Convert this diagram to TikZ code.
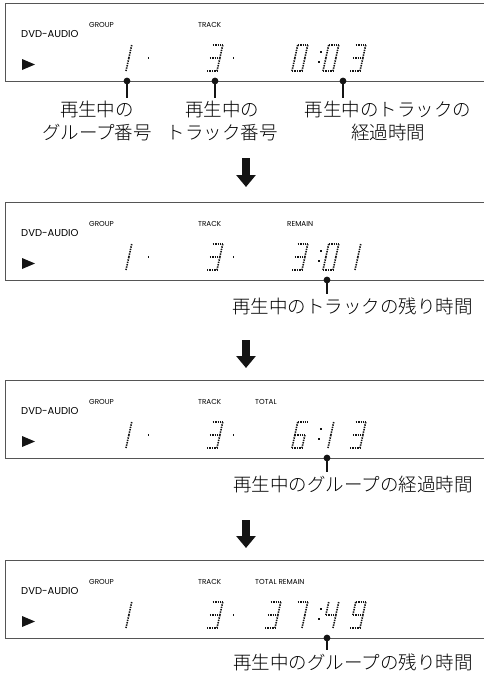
\documentclass[tikz,border=0pt]{standalone}
\usepackage{fontspec}
\usetikzlibrary{positioning,arrows.meta,calc}
\newfontfamily\lcdfont{Poppins}
\IfFontExistsTF{Noto Sans CJK JP Light}
 {\newfontfamily\jpfont{Noto Sans CJK JP Light}}
 {\newfontfamily\jpfont{Noto Sans CJK JP}}
\definecolor{Frame}{RGB}{85,85,85}
\definecolor{Ink}{RGB}{20,20,20}
\def\digO{TL/TR,TR/MR,MR/BR,BL/BR,ML/BL,TL/ML}
\def\digI{TM/MM,MM/BM}
\def\digIII{TL/TR,TR/MR,MR/BR,BL/BR,ML/MR}
\def\digIV{TL/ML,ML/MR,TR/MR,MR/BR}
\def\digVI{TL/TR,TL/ML,ML/BL,BL/BR,MR/BR,ML/MR}
\def\digVII{TL/TR,TR/MR,MR/BR}
\def\digIX{TL/TR,TL/ML,TR/MR,ML/MR,MR/BR,BL/BR}
\newcommand\lcd[3]{\begin{scope}[shift={(#1,#2)},xslant=.22]
 \coordinate (TL) at (0,-26); \coordinate (TM) at (5,-26); \coordinate (TR) at (10,-26);
 \coordinate (ML) at (0,-13); \coordinate (MM) at (5,-13); \coordinate (MR) at (10,-13);
 \coordinate (BL) at (0,0); \coordinate (BM) at (5,0); \coordinate (BR) at (10,0);
 \foreach \p/\q in #3 {\draw[seg] (\p)--(\q);}
\end{scope}}
\newcommand\lcddot[1]{\fill[Ink] (#1,54) rectangle +(1.8,1.8);}
\newcommand\lcdcol[1]{\fill[Ink] (#1+2,48) rectangle +(1.8,1.8);
 \fill[Ink] (#1,58) rectangle +(1.8,1.8);}
\newcommand\screen[2]{\node[panel] (#1) at (5,#2) {};
 \begin{scope}[shift={(0,#2)}]
 \node[tag,font=\lcdfont\fontsize{10}{11}\selectfont] (#1dvd) at (21,31) {DVD-AUDIO};
 \node[tag] (#1grp) at (89,22) {GROUP};
 \node[tag] (#1trk) at (198,22) {TRACK};
 \fill[Ink] (22,56)--(35,61.5)--(22,67)--cycle;
 \lcd{121}{68}\digI \lcd{207}{68}\digIII \lcddot{232.5}
 \end{scope}}

\begin{document}
\begin{tikzpicture}[x=1pt,y=-1pt,
 panel/.style={draw=Frame,line width=1.1pt,minimum width=520pt,minimum height=78pt,anchor=north west,inner sep=0},
 seg/.style={Ink,line width=1.6pt,dash pattern=on 1.4pt off 1pt},
 tag/.style={font=\lcdfont\fontsize{7.2}{8}\selectfont,anchor=west,inner sep=0},
 note/.style={font=\jpfont\fontsize{18.5}{23}\selectfont,inner sep=0,align=center},
 pin/.style={Ink,line width=2.6pt,shorten >=3pt},
 flow/.style={Ink,line width=8pt,-{Triangle[width=19pt,length=12pt]}}]
\useasboundingbox (0,0) rectangle (483,683);

\screen{p1}{3}
\begin{scope}[shift={(0,3)}]
 \lcddot{147.5}
 \lcd{292}{68}\digO \lcdcol{318} \lcd{323}{68}\digO \lcd{350}{68}\digIII
\end{scope}
\coordinate (q1) at (127,81); \coordinate (q2) at (215,81); \coordinate (q3) at (343,81);
\node[note] (c1) at (97,121) {再生中の\\グループ番号};
\node[note] (c2) at (222,121) {再生中の\\トラック番号};
\node[note] (c3) at (388,121) {再生中のトラックの\\経過時間};

\screen{p2}{202}
\begin{scope}[shift={(0,202)}]
 \node[tag] (p2rem) at (287,22) {REMAIN};
 \lcddot{147.5}
 \lcd{292}{68}\digIII \lcdcol{318} \lcd{323}{68}\digO \lcd{350}{68}\digI
\end{scope}
\coordinate (q4) at (327,280);
\node[note,anchor=east] (c4) at (473,306) {再生中のトラックの残り時間};

\screen{p3}{380}
\begin{scope}[shift={(0,380)}]
 \node[tag] (p3tot) at (255,22) {TOTAL};
 \lcddot{147.5}
 \lcd{292}{68}\digVI \lcdcol{318} \lcd{323}{68}\digI \lcd{350}{68}\digIII
\end{scope}
\coordinate (q5) at (327,458);
\node[note,anchor=east] (c5) at (473,484) {再生中のグループの経過時間};

\screen{p4}{560}
\begin{scope}[shift={(0,560)}]
 \node[tag] (p4tot) at (255,22) {TOTAL REMAIN};
 \lcd{265}{68}\digIII \lcd{292}{68}\digVII \lcdcol{318} \lcd{323}{68}\digIV \lcd{350}{68}\digIX
\end{scope}
\coordinate (q6) at (327,638);
\node[note,anchor=east] (c6) at (473,662) {再生中のグループの残り時間};

\foreach \q/\c in {q1/c1,q2/c2,q3/c3,q4/c4,q5/c5,q6/c6}
 {\fill[Ink] (\q) circle (3.4pt); \draw[pin] (\q)--(\q|-\c.north);}
\foreach \n/\a/\b in {1/158/187,2/340/368,3/520/548}
 {\coordinate (s\n) at (246,\a); \coordinate (e\n) at (246,\b); \draw[flow] (s\n)--(e\n);}
\end{tikzpicture}
\end{document}
